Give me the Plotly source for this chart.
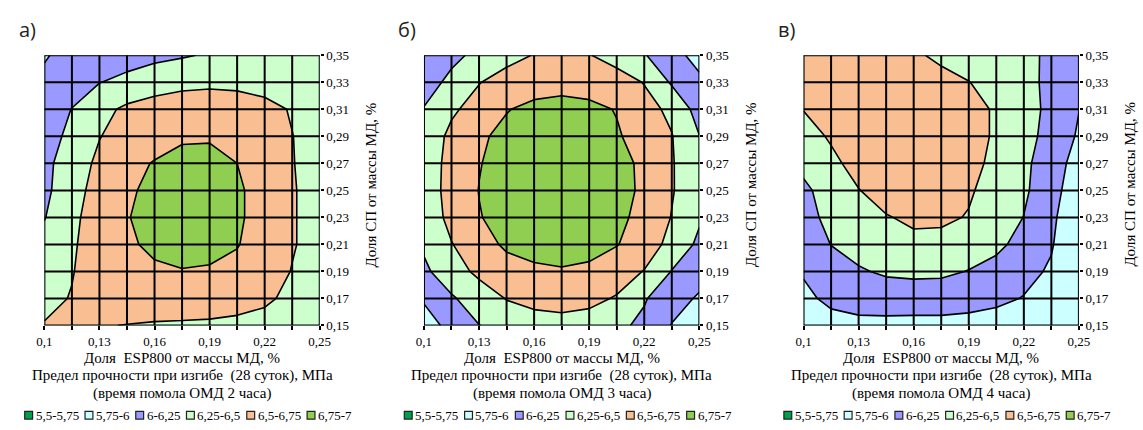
import plotly.graph_objects as go

W, H = 1143, 430

# Grid nodes: ESP800 share (x) and SP share (y), % of binder mass
x_vals = [0.1, 0.115, 0.13, 0.145, 0.16, 0.175, 0.19, 0.205, 0.22, 0.235, 0.25]
y_vals = [0.15, 0.17, 0.19, 0.21, 0.23, 0.25, 0.27, 0.29, 0.31, 0.33, 0.35]

x_tick_text = ["0,1", "", "0,13", "", "0,16", "", "0,19", "", "0,22", "", "0,25"]
y_tick_text = ["0,15", "0,17", "0,19", "0,21", "0,23", "0,25",
               "0,27", "0,29", "0,31", "0,33", "0,35"]

# Flexural strength at 28 days, MPa (rows follow y_vals, columns follow x_vals)
strength_2h = [
    [6.51, 6.52, 6.51, 6.495, 6.48, 6.47, 6.46, 6.44, 6.40, 6.32, 6.27],
    [6.45, 6.51, 6.56, 6.60, 6.62, 6.63, 6.63, 6.60, 6.55, 6.43, 6.33],
    [6.38, 6.49, 6.60, 6.67, 6.72, 6.74, 6.73, 6.70, 6.63, 6.49, 6.38],
    [6.32, 6.47, 6.62, 6.72, 6.79, 6.83, 6.81, 6.76, 6.66, 6.52, 6.40],
    [6.24, 6.44, 6.63, 6.74, 6.82, 6.88, 6.87, 6.78, 6.67, 6.52, 6.40],
    [6.20, 6.39, 6.61, 6.72, 6.80, 6.87, 6.86, 6.78, 6.67, 6.52, 6.40],
    [6.20, 6.35, 6.56, 6.70, 6.76, 6.82, 6.81, 6.75, 6.66, 6.51, 6.40],
    [6.18, 6.29, 6.49, 6.62, 6.68, 6.72, 6.73, 6.71, 6.64, 6.505, 6.40],
    [6.12, 6.255, 6.42, 6.55, 6.62, 6.67, 6.68, 6.65, 6.58, 6.48, 6.38],
    [6.05, 6.15, 6.245, 6.30, 6.37, 6.42, 6.44, 6.43, 6.40, 6.36, 6.30],
    [5.98, 6.08, 6.13, 6.17, 6.20, 6.23, 6.27, 6.30, 6.32, 6.33, 6.30],
]

strength_3h = [
    [5.88, 6.08, 6.245, 6.35, 6.40, 6.42, 6.40, 6.30, 6.20, 5.99, 5.85],
    [6.03, 6.22, 6.38, 6.51, 6.57, 6.59, 6.56, 6.48, 6.27, 6.10, 5.97],
    [6.20, 6.40, 6.55, 6.65, 6.71, 6.73, 6.71, 6.62, 6.49, 6.24, 6.10],
    [6.29, 6.49, 6.65, 6.79, 6.83, 6.85, 6.82, 6.76, 6.64, 6.42, 6.20],
    [6.34, 6.57, 6.74, 6.82, 6.88, 6.91, 6.88, 6.79, 6.70, 6.49, 6.28],
    [6.36, 6.59, 6.755, 6.84, 6.91, 6.94, 6.91, 6.81, 6.72, 6.52, 6.31],
    [6.36, 6.58, 6.74, 6.83, 6.90, 6.93, 6.90, 6.80, 6.72, 6.52, 6.30],
    [6.33, 6.56, 6.72, 6.80, 6.86, 6.89, 6.86, 6.77, 6.67, 6.51, 6.255],
    [6.26, 6.46, 6.60, 6.74, 6.80, 6.83, 6.80, 6.74, 6.58, 6.45, 6.15],
    [6.16, 6.30, 6.49, 6.60, 6.66, 6.67, 6.66, 6.60, 6.49, 6.22, 6.03],
    [6.05, 6.20, 6.30, 6.42, 6.51, 6.56, 6.51, 6.41, 6.27, 6.05, 5.95],
]

strength_4h = [
    [5.88, 5.92, 5.95, 5.95, 5.94, 5.94, 5.93, 5.90, 5.86, 5.82, 5.78],
    [5.95, 6.05, 6.08, 6.09, 6.10, 6.10, 6.08, 6.05, 5.99, 5.88, 5.80],
    [6.02, 6.13, 6.22, 6.29, 6.31, 6.30, 6.24, 6.16, 6.07, 5.97, 5.80],
    [6.07, 6.255, 6.36, 6.43, 6.46, 6.45, 6.40, 6.31, 6.16, 6.02, 5.78],
    [6.12, 6.35, 6.41, 6.49, 6.53, 6.53, 6.49, 6.40, 6.245, 6.05, 5.80],
    [6.17, 6.42, 6.495, 6.57, 6.59, 6.57, 6.52, 6.43, 6.29, 6.09, 5.85],
    [6.35, 6.46, 6.56, 6.61, 6.62, 6.60, 6.55, 6.46, 6.30, 6.12, 5.90],
    [6.43, 6.52, 6.60, 6.63, 6.63, 6.60, 6.56, 6.48, 6.33, 6.17, 5.97],
    [6.505, 6.58, 6.63, 6.64, 6.62, 6.58, 6.56, 6.48, 6.33, 6.20, 6.005],
    [6.56, 6.62, 6.64, 6.63, 6.60, 6.56, 6.505, 6.42, 6.30, 6.21, 6.06],
    [6.62, 6.64, 6.62, 6.58, 6.53, 6.46, 6.40, 6.33, 6.29, 6.22, 6.12],
]

band_labels = ["5,5-5,75", "5,75-6", "6-6,25", "6,25-6,5", "6,5-6,75", "6,75-7"]
band_colors = ["#00A04B", "#CCFFFF", "#9999FF", "#CCFFCC", "#F9BF92", "#8FCE50"]
level_start, level_end, level_step = 5.5, 7.0, 0.25

panel_letters = ["а)", "б)", "в)"]
panel_times = ["(время помола ОМД 2 часа)",
               "(время помола ОМД 3 часа)",
               "(время помола ОМД 4 часа)"]
panel_data = [strength_2h, strength_3h, strength_4h]

x_title = "Доля  ESP800 от массы МД, %"
y_title = "Доля СП от массы МД, %"
sub_title = "Предел прочности при изгибе  (28 суток), МПа"

# Layout geometry in pixels
plot_left = [37, 423, 809]
plot_w = 280
plot_top, plot_bottom = 50, 330

SERIF = "Liberation Serif"

# Fill colours for contour bands (plotly samples the scale at band midpoints)
n_levels = int(round((level_end - level_start) / level_step)) + 1
colorscale = [[0.0, band_colors[0]]]
for k, c in enumerate(band_colors):
    colorscale.append([(k + 1) / n_levels, c])
colorscale.append([1.0, band_colors[-1]])

fig = go.Figure()
annotations = []
shapes = []


def px_x(p):
    return p / W


def px_y(p):
    return 1 - p / H


def label_width(s, size):
    w = 0.0
    for ch in s:
        if ch.isdigit():
            w += 0.5 * size
        elif ch == ",":
            w += 0.25 * size
        elif ch == "-":
            w += 0.333 * size
        else:
            w += 0.5 * size
    return w


for i, z in enumerate(panel_data):
    xa = "x" if i == 0 else f"x{i + 1}"
    ya = "y" if i == 0 else f"y{i + 1}"
    fig.add_trace(go.Contour(
        x=x_vals, y=y_vals, z=z,
        xaxis=xa, yaxis=ya,
        autocontour=False,
        contours=dict(start=level_start, end=level_end, size=level_step,
                      coloring="fill", showlines=True),
        line=dict(color="black", width=1.6, smoothing=0),
        colorscale=colorscale,
        showscale=False,
        hoverinfo="skip",
    ))

    left = plot_left[i]
    axis_font = dict(family=SERIF, size=13, color="black")
    fig.update_layout(**{
        ("xaxis" if i == 0 else f"xaxis{i + 1}"): dict(
            domain=[px_x(left), px_x(left + plot_w)],
            range=[x_vals[0], x_vals[-1]],
            anchor=ya,
            tickmode="array", tickvals=x_vals, ticktext=x_tick_text,
            ticks="outside", ticklen=4, tickwidth=2, tickcolor="black",
            tickfont=axis_font,
            showgrid=False, zeroline=False, showline=False,
            layer="above traces", fixedrange=True,
        ),
        ("yaxis" if i == 0 else f"yaxis{i + 1}"): dict(
            domain=[px_y(plot_bottom), px_y(plot_top)],
            range=[y_vals[0], y_vals[-1]],
            anchor=xa, side="right",
            tickmode="array", tickvals=y_vals, ticktext=y_tick_text,
            ticks="outside", ticklen=3, tickwidth=2, tickcolor="black",
            tickfont=axis_font,
            showgrid=False, zeroline=False, showline=False,
            layer="above traces", fixedrange=True,
        ),
    })

    # Black cell grid drawn above the filled contours
    for xv in x_vals:
        shapes.append(dict(type="line", xref=xa, yref=ya,
                           x0=xv, x1=xv, y0=y_vals[0], y1=y_vals[-1],
                           line=dict(color="black", width=2), layer="above"))
    for yv in y_vals:
        shapes.append(dict(type="line", xref=xa, yref=ya,
                           x0=x_vals[0], x1=x_vals[-1], y0=yv, y1=yv,
                           line=dict(color="black", width=2), layer="above"))

    center = left + plot_w / 2
    # Panel letter
    annotations.append(dict(
        text=panel_letters[i], xref="paper", yref="paper",
        x=px_x(left - 28), y=px_y(23), xanchor="left", yanchor="middle",
        showarrow=False, font=dict(family="Open Sans", size=20, color="#222222")))
    # Axis titles and captions
    for text, py in [(x_title, 364), (sub_title, 382), (panel_times[i], 400)]:
        annotations.append(dict(
            text=text, xref="paper", yref="paper",
            x=px_x(center), y=px_y(py), xanchor="center", yanchor="middle",
            showarrow=False, font=dict(family=SERIF, size=15, color="black")))
    annotations.append(dict(
        text=y_title, xref="paper", yref="paper", textangle=-90,
        x=px_x(left + plot_w + 52), y=px_y(184), xanchor="center", yanchor="middle",
        showarrow=False, font=dict(family=SERIF, size=15, color="black")))

    # Band legend below each panel
    cursor = left - 20
    leg_y = 423
    sq = 8
    for lab, col in zip(band_labels, band_colors):
        shapes.append(dict(type="rect", xref="paper", yref="paper",
                           x0=px_x(cursor), x1=px_x(cursor + sq),
                           y0=px_y(leg_y + sq / 2), y1=px_y(leg_y - sq / 2),
                           fillcolor=col, line=dict(color="#222222", width=1.2)))
        annotations.append(dict(
            text=lab, xref="paper", yref="paper",
            x=px_x(cursor + sq + 1), y=px_y(leg_y), xanchor="left", yanchor="middle",
            showarrow=False, font=dict(family=SERIF, size=13, color="black")))
        cursor += sq + 2 + label_width(lab, 13) + 8

fig.update_layout(
    width=W, height=H,
    margin=dict(l=0, r=0, t=0, b=0),
    paper_bgcolor="white", plot_bgcolor="white",
    showlegend=False,
    annotations=annotations,
    shapes=shapes,
)

fig.write_html("out.html")
